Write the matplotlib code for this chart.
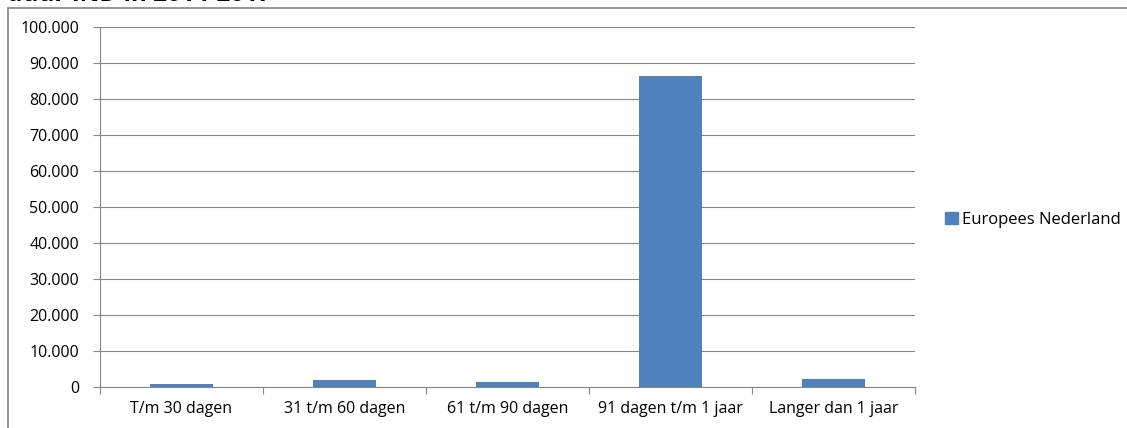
import matplotlib
matplotlib.use("Agg")
import matplotlib.pyplot as plt
from matplotlib.lines import Line2D
from matplotlib.ticker import FuncFormatter, FixedLocator

categories = ["T/m 30 dagen", "31 t/m 60 dagen", "61 t/m 90 dagen",
              "91 dagen t/m 1 jaar", "Langer dan 1 jaar"]
values = [700, 2000, 1400, 86400, 2200]
series_name = "Europees Nederland"
yticks = list(range(0, 100001, 10000))

plt.rcParams['font.family'] = ['Open Sans', 'DejaVu Sans']
fig = plt.figure(figsize=(11.27, 4.28), dpi=100)
W, H = 1127, 428
ax = fig.add_axes([100 / W, 1 - 387 / H, 815 / W, 360 / H])

color = "#4F81BD"
grid = "#868686"
x = list(range(len(categories)))
ax.bar(x, values, width=0.39, color=color, zorder=3, label=series_name)
ax.set_xlim(-0.5, len(categories) - 0.5)
ax.set_ylim(0, 100000)
ax.yaxis.set_major_locator(FixedLocator(yticks))
ax.yaxis.set_major_formatter(FuncFormatter(lambda v, p: f"{int(v):,}".replace(",", ".")))
ax.grid(axis="y", color=grid, linewidth=0.8, zorder=0)
ax.set_xticks(x)
ax.set_xticklabels(categories)
ax.xaxis.set_minor_locator(FixedLocator([i - 0.5 for i in range(len(categories) + 1)]))
ax.tick_params(axis="x", which="major", length=0, pad=10, labelsize=11.5, labelcolor="#000000")
ax.tick_params(axis="x", which="minor", length=5, color=grid, width=0.8)
ax.tick_params(axis="y", length=5, color=grid, width=0.8, labelsize=11.5, pad=10, labelcolor="#000000")
for s in ["top", "right"]:
    ax.spines[s].set_visible(False)
for s in ["left", "bottom"]:
    ax.spines[s].set_color(grid)
    ax.spines[s].set_linewidth(0.8)

leg = fig.legend(handles=[plt.Rectangle((0, 0), 1, 1, color=color)], labels=[series_name],
                 loc="center left", bbox_to_anchor=(945 / W, 1 - 220 / H),
                 frameon=False, fontsize=12, handlelength=0.75, handleheight=0.75,
                 handletextpad=0.25, borderaxespad=0, borderpad=0)

# outer chart frame
fig.add_artist(Line2D([8 / W, 8 / W], [0, 1 - 8 / H], transform=fig.transFigure, color="#8c8c8c", linewidth=1.3))
fig.add_artist(Line2D([8 / W, 1], [1 - 8 / H, 1 - 8 / H], transform=fig.transFigure, color="#8c8c8c", linewidth=1.3))

# title, cut off at the top edge as in the reference
fig.text(7 / W, 1 - 1 / H, "duur IND in 2014-2017", fontsize=17.5, fontweight="bold",
         va="baseline", ha="left", color="#000000")

fig.savefig("out.png", dpi=100)
